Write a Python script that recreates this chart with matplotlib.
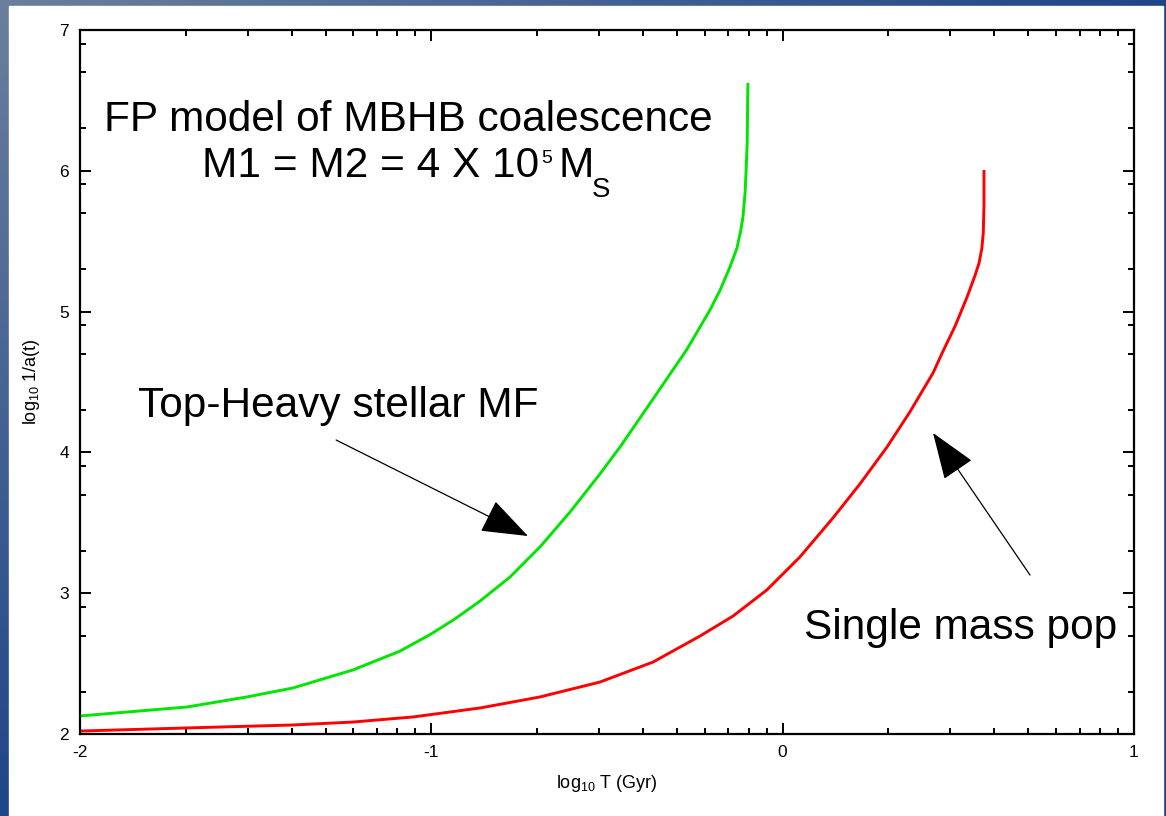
import numpy as np
import matplotlib.pyplot as plt
from matplotlib.patches import Rectangle
from matplotlib.ticker import FixedLocator

plt.rcParams['font.family'] = ['Liberation Sans', 'DejaVu Sans']
plt.rcParams['mathtext.fontset'] = 'custom'
plt.rcParams['mathtext.rm'] = 'Liberation Sans'
plt.rcParams['mathtext.it'] = 'Liberation Sans:italic'
plt.rcParams['axes.unicode_minus'] = False

# Curves: log10 T (Gyr) vs log10 1/a(t)
top_heavy_x = [-2.000, -1.695, -1.525, -1.394, -1.223, -1.089, -1.001, -0.933,
               -0.861, -0.776, -0.691, -0.605, -0.520, -0.463, -0.369, -0.272,
               -0.207, -0.178, -0.150, -0.130, -0.119, -0.113, -0.107, -0.104,
               -0.101, -0.099]
top_heavy_y = [2.128, 2.192, 2.263, 2.327, 2.455, 2.589, 2.710, 2.817,
               2.945, 3.115, 3.328, 3.577, 3.847, 4.038, 4.379, 4.734,
               5.011, 5.153, 5.317, 5.452, 5.580, 5.672, 5.842, 6.006,
               6.197, 6.624]

single_x = [-2.000, -1.695, -1.394, -1.223, -1.052, -0.861, -0.691, -0.520,
            -0.369, -0.235, -0.141, -0.045, 0.049, 0.143, 0.220, 0.297,
            0.362, 0.428, 0.454, 0.491, 0.525, 0.547, 0.559, 0.567,
            0.571, 0.573, 0.573]
single_y = [2.021, 2.043, 2.064, 2.085, 2.121, 2.185, 2.263, 2.369,
            2.511, 2.696, 2.838, 3.023, 3.257, 3.534, 3.776, 4.038,
            4.287, 4.564, 4.706, 4.898, 5.104, 5.253, 5.345, 5.450,
            5.560, 5.757, 6.006]

x_ticks = [-2, -1, 0, 1]
y_ticks = [2, 3, 4, 5, 6, 7]

W, H = 1166, 816
fig = plt.figure(figsize=(W / 100, H / 100), dpi=100)

# slide background: blue gradient border with white page
bg = fig.add_axes([0, 0, 1, 1])
gx, gy = np.meshgrid(np.linspace(0, 1, 300), np.linspace(0, 1, 200))
t = np.clip((gx + gy) / 1.0, 0, 1)[..., None]
c1 = np.array([0.42, 0.50, 0.61])
c2 = np.array([0.12, 0.27, 0.54])
bg.imshow(c1 * (1 - t) + c2 * t, extent=[0, W, H, 0], aspect='auto')
bg.add_patch(Rectangle((9, 6), 1154, 812, color='white'))
bg.set_xlim(0, W)
bg.set_ylim(H, 0)
bg.axis('off')

ax = fig.add_axes([80 / W, 82 / H, 1054 / W, 704 / H])
ax.plot(top_heavy_x, top_heavy_y, color='#00e600', lw=2.1,
        solid_joinstyle='round', solid_capstyle='butt')
ax.plot(single_x, single_y, color='#ff0000', lw=2.1,
        solid_joinstyle='round', solid_capstyle='butt')

ax.set_xlim(-2, 1)
ax.set_ylim(2, 7)
ax.set_xticks(x_ticks)
ax.set_yticks(y_ticks)
dec_x = np.arange(-2, 1)
ax.xaxis.set_minor_locator(FixedLocator([d + np.log10(k) for d in dec_x for k in range(2, 10)]))
dec_y = np.arange(2, 7)
ax.yaxis.set_minor_locator(FixedLocator([d + np.log10(k) for d in dec_y for k in (2, 5, 8)]))
ax.tick_params(which='both', direction='in', top=True, right=True, width=1.4,
               labelsize=12.5, pad=8)
ax.tick_params(which='major', length=8)
ax.tick_params(which='minor', length=4.5)
for s in ax.spines.values():
    s.set_linewidth(1.6)
ax.set_facecolor('none')

ax.set_xlabel(r'log$_{10}$ T (Gyr)', fontsize=13, labelpad=9)
ax.set_ylabel(r'log$_{10}$ 1/a(t)', fontsize=13, labelpad=12)

# text on the slide (pixel positions -> figure fraction)
def ftext(px, py, s, **kw):
    fig.text(px / W, 1 - py / H, s, va='baseline', **kw)

ftext(408, 131, 'FP model of MBHB coalescence', fontsize=30.5, ha='center')
ftext(539, 177, 'M1 = M2 = 4 X 10', fontsize=30.5, ha='right')
ftext(541, 163, '5', fontsize=14, ha='left')
ftext(559, 177, 'M', fontsize=30.5, ha='left')
ftext(592, 197, 'S', fontsize=20, ha='left')
ftext(138, 417, 'Top-Heavy stellar MF', fontsize=30.5, ha='left')
ftext(804, 639, 'Single mass pop', fontsize=30.5, ha='left')

# arrows
arrow_style = dict(arrowstyle='-|>,head_length=1.5,head_width=0.55', color='black',
                   lw=0.9, mutation_scale=20, shrinkA=0, shrinkB=0)
ax.annotate('', xy=(-0.725, 3.406), xytext=(-1.271, 4.088), arrowprops=arrow_style)
ax.annotate('', xy=(0.428, 4.138), xytext=(0.704, 3.129), arrowprops=arrow_style)

fig.savefig('out.png', dpi=100)
